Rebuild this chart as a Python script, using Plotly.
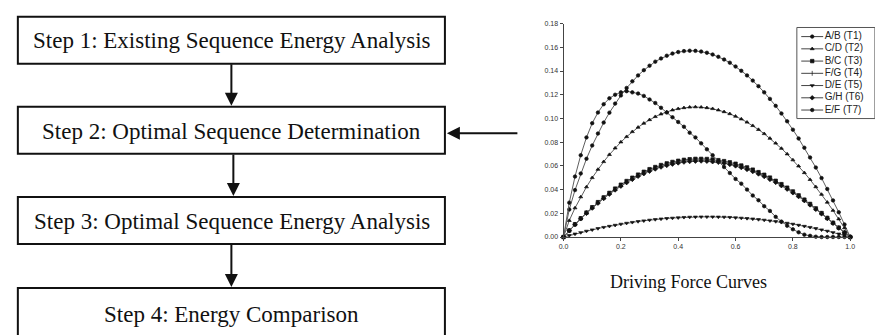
import plotly.graph_objects as go

# ---------------- data ----------------
X = [0.00, 0.02, 0.04, 0.06, 0.08, 0.10, 0.12, 0.14, 0.16, 0.18, 0.20,
     0.22, 0.24, 0.26, 0.28, 0.30, 0.32, 0.34, 0.36, 0.38, 0.40,
     0.42, 0.44, 0.46, 0.48, 0.50, 0.52, 0.54, 0.56, 0.58, 0.60,
     0.62, 0.64, 0.66, 0.68, 0.70, 0.72, 0.74, 0.76, 0.78, 0.80,
     0.82, 0.84, 0.86, 0.88, 0.90, 0.92, 0.94, 0.96, 0.98, 1.00]

T1 = [0, 0.0232, 0.0396, 0.0536, 0.0660, 0.0772, 0.0873, 0.0965, 0.1049, 0.1125, 0.1194,
      0.1257, 0.1313, 0.1363, 0.1407, 0.1445, 0.1479, 0.1506, 0.1529, 0.1547, 0.1560,
      0.1568, 0.1571, 0.1570, 0.1564, 0.1554, 0.1539, 0.1520, 0.1497, 0.1470, 0.1438,
      0.1402, 0.1363, 0.1319, 0.1272, 0.1220, 0.1165, 0.1106, 0.1042, 0.0976, 0.0905,
      0.0831, 0.0753, 0.0671, 0.0586, 0.0497, 0.0405, 0.0309, 0.0209, 0.0106, 0]
T2 = [0, 0.0139, 0.0245, 0.0338, 0.0422, 0.0500, 0.0570, 0.0635, 0.0695, 0.0750, 0.0801,
      0.0846, 0.0888, 0.0925, 0.0959, 0.0989, 0.1015, 0.1037, 0.1055, 0.1071, 0.1082,
      0.1090, 0.1095, 0.1097, 0.1095, 0.1090, 0.1082, 0.1071, 0.1056, 0.1039, 0.1018,
      0.0995, 0.0968, 0.0939, 0.0906, 0.0871, 0.0832, 0.0791, 0.0747, 0.0700, 0.0650,
      0.0598, 0.0542, 0.0484, 0.0423, 0.0359, 0.0293, 0.0224, 0.0152, 0.0077, 0]
T3 = [0, 0.0055, 0.0108, 0.0158, 0.0206, 0.0251, 0.0294, 0.0334, 0.0372, 0.0408, 0.0441,
      0.0472, 0.0500, 0.0526, 0.0550, 0.0572, 0.0590, 0.0607, 0.0621, 0.0633, 0.0643,
      0.0651, 0.0656, 0.0659, 0.0659, 0.0658, 0.0654, 0.0648, 0.0640, 0.0630, 0.0618,
      0.0603, 0.0587, 0.0568, 0.0547, 0.0525, 0.0501, 0.0474, 0.0446, 0.0416, 0.0384,
      0.0351, 0.0315, 0.0279, 0.0241, 0.0202, 0.0161, 0.0120, 0.0079, 0.0037, 0]
T4 = [0, 0.0054, 0.0106, 0.0156, 0.0203, 0.0248, 0.0290, 0.0330, 0.0367, 0.0402, 0.0435,
      0.0465, 0.0493, 0.0519, 0.0542, 0.0563, 0.0582, 0.0598, 0.0613, 0.0624, 0.0634,
      0.0641, 0.0646, 0.0649, 0.0650, 0.0648, 0.0645, 0.0639, 0.0631, 0.0621, 0.0609,
      0.0595, 0.0578, 0.0560, 0.0540, 0.0518, 0.0493, 0.0467, 0.0440, 0.0410, 0.0379,
      0.0346, 0.0311, 0.0275, 0.0238, 0.0199, 0.0159, 0.0118, 0.0077, 0.0037, 0]
T5 = [0, 0.0013, 0.0026, 0.0038, 0.0050, 0.0061, 0.0072, 0.0082, 0.0091, 0.0100, 0.0109,
      0.0117, 0.0124, 0.0131, 0.0137, 0.0143, 0.0148, 0.0153, 0.0157, 0.0160, 0.0163,
      0.0166, 0.0168, 0.0169, 0.0170, 0.0170, 0.0170, 0.0169, 0.0168, 0.0166, 0.0163,
      0.0160, 0.0157, 0.0153, 0.0148, 0.0143, 0.0137, 0.0131, 0.0124, 0.0117, 0.0109,
      0.0100, 0.0091, 0.0082, 0.0072, 0.0061, 0.0050, 0.0038, 0.0026, 0.0013, 0]
T6 = [0, 0.0054, 0.0105, 0.0154, 0.0200, 0.0244, 0.0286, 0.0325, 0.0362, 0.0397, 0.0429,
      0.0459, 0.0486, 0.0512, 0.0534, 0.0555, 0.0574, 0.0590, 0.0604, 0.0615, 0.0625,
      0.0632, 0.0637, 0.0640, 0.0641, 0.0639, 0.0635, 0.0630, 0.0622, 0.0612, 0.0600,
      0.0586, 0.0570, 0.0552, 0.0532, 0.0510, 0.0486, 0.0461, 0.0433, 0.0404, 0.0373,
      0.0341, 0.0307, 0.0271, 0.0234, 0.0196, 0.0157, 0.0117, 0.0076, 0.0036, 0]
T7 = [0, 0.029, 0.051, 0.069, 0.084, 0.096, 0.105, 0.112, 0.117, 0.120, 0.122,
      0.123, 0.122, 0.121, 0.119, 0.116, 0.113, 0.109, 0.105, 0.101, 0.097,
      0.093, 0.088, 0.084, 0.079, 0.074, 0.069, 0.064, 0.059, 0.054, 0.049,
      0.045, 0.040, 0.035, 0.031, 0.026, 0.022, 0.017, 0.013, 0.0095, 0.0065,
      0.004, 0.002, 0.001, 0.0003, 0, 0, 0, 0, 0, 0]

SERIES_NAMES = ["A/B (T1)", "C/D (T2)", "B/C (T3)", "F/G (T4)", "D/E (T5)", "G/H (T6)", "E/F (T7)"]
SERIES_VALUES = [T1, T2, T3, T4, T5, T6, T7]
SERIES_SYMBOLS = ["circle", "triangle-up", "square", "line-ns-open", "triangle-down", "diamond", "circle"]

X_TICKS = [0.0, 0.2, 0.4, 0.6, 0.8, 1.0]
X_TICK_TEXT = ["0.0", "0.2", "0.4", "0.6", "0.8", "1.0"]
Y_TICKS = [0.00, 0.02, 0.04, 0.06, 0.08, 0.10, 0.12, 0.14, 0.16, 0.18]
Y_TICK_TEXT = ["0.00", "0.02", "0.04", "0.06", "0.08", "0.10", "0.12", "0.14", "0.16", "0.18"]

STEPS = ["Step 1: Existing Sequence Energy Analysis",
         "Step 2: Optimal Sequence Determination",
         "Step 3: Optimal Sequence Energy Analysis",
         "Step 4: Energy Comparison"]
CHART_CAPTION = "Driving Force Curves"

# ---------------- layout helpers ----------------
W, H = 875, 335
def px(x):
    return x / W
def py(y):
    return 1 - y / H

LINE_COLOR = "#5e5e5e"
MARK_COLOR = "#111111"
SERIF = "Liberation Serif, Times New Roman, serif"
SANS = "Liberation Sans, Arial, sans-serif"

fig = go.Figure()

for name, vals, sym in zip(SERIES_NAMES, SERIES_VALUES, SERIES_SYMBOLS):
    fig.add_trace(go.Scatter(
        x=X, y=vals, name=name, mode="lines+markers",
        line=dict(color=LINE_COLOR, width=1),
        marker=dict(symbol=sym, size=3.5, color=MARK_COLOR,
                    line=dict(color=MARK_COLOR, width=0.7)),
        cliponaxis=False, showlegend=False))

# manual legend (drawn on its own hidden axes)
LEG_ROWS = list(range(len(SERIES_NAMES)))
for i, (name, sym) in enumerate(zip(SERIES_NAMES, SERIES_SYMBOLS)):
    fig.add_trace(go.Scatter(
        x=[0.06, 0.36], y=[i, i], mode="lines", xaxis="x2", yaxis="y2",
        line=dict(color="#444444", width=1), showlegend=False, hoverinfo="skip"))
    fig.add_trace(go.Scatter(
        x=[0.21], y=[i], mode="markers", xaxis="x2", yaxis="y2",
        marker=dict(symbol=sym, size=3.5, color=MARK_COLOR, line=dict(color=MARK_COLOR, width=0.7)),
        showlegend=False, hoverinfo="skip", cliponaxis=False))
fig.add_trace(go.Scatter(
    x=[0.38] * len(SERIES_NAMES), y=LEG_ROWS, text=SERIES_NAMES, mode="text",
    textposition="middle right", xaxis="x2", yaxis="y2",
    textfont=dict(family=SANS, size=10, color="#222222"),
    showlegend=False, hoverinfo="skip", cliponaxis=False))

shapes = []
annotations = []

# legend frame
shapes.append(dict(type="rect", xref="paper", yref="paper",
                   x0=px(801), x1=px(880), y0=py(117), y1=py(24),
                   line=dict(color="#555555", width=1), fillcolor="rgba(0,0,0,0)"))

# flowchart boxes
BOX_Y = [(13, 61), (105, 153), (197, 245), (290, 345)]
TEXT_Y = [37, 130, 222, 317]
for (y0, y1), ty, label in zip(BOX_Y, TEXT_Y, STEPS):
    shapes.append(dict(type="rect", xref="paper", yref="paper",
                       x0=px(13), x1=px(445), y0=py(y1), y1=py(y0),
                       line=dict(color="#111111", width=2), fillcolor="white"))
    annotations.append(dict(text=label, xref="paper", yref="paper",
                            x=px(229.5), y=py(ty), xanchor="center", yanchor="middle",
                            showarrow=False, font=dict(family=SERIF, size=23, color="#111111")))

# vertical arrows between boxes
for xa, (ya, yb) in zip([229, 231, 229], [(61, 105), (153, 197), (245, 290)]):
    annotations.append(dict(text="", xref="paper", yref="paper",
                            x=px(xa), y=py(yb - 1), ax=0, ay=-(yb - 1 - ya),
                            showarrow=True, arrowhead=2, arrowsize=1.3, arrowwidth=2,
                            arrowcolor="#111111", standoff=0))
# horizontal arrow from chart to step 2
annotations.append(dict(text="", xref="paper", yref="paper",
                        x=px(447), y=py(132), ax=519 - 447, ay=0,
                        showarrow=True, arrowhead=2, arrowsize=1.3, arrowwidth=2,
                        arrowcolor="#111111", standoff=0))

# chart caption
annotations.append(dict(text=CHART_CAPTION, xref="paper", yref="paper",
                        x=px(691), y=py(284), xanchor="center", yanchor="middle",
                        showarrow=False, font=dict(family=SERIF, size=18, color="#111111")))

axis_common = dict(showgrid=False, zeroline=False, showline=True, linecolor="#444444",
                   linewidth=1, ticks="outside", ticklen=3, tickcolor="#444444",
                   tickfont=dict(family=SANS, size=7, color="#333333"))

fig.update_layout(
    width=W, height=H, margin=dict(l=0, r=0, t=0, b=0),
    paper_bgcolor="white", plot_bgcolor="white",
    xaxis=dict(domain=[px(565), px(855)], range=[0, 1.0], tickvals=X_TICKS,
               ticktext=X_TICK_TEXT, anchor="y", **axis_common),
    yaxis=dict(domain=[py(238), py(20)], range=[0, 0.18], tickvals=Y_TICKS,
               ticktext=Y_TICK_TEXT, anchor="x", **axis_common),
    xaxis2=dict(domain=[px(801), 1.0], range=[0, 1.0], visible=False, anchor="y2"),
    yaxis2=dict(domain=[py(117), py(24)], range=[6.696, -0.744], visible=False, anchor="x2"),
    shapes=shapes, annotations=annotations, showlegend=False,
)

fig.write_html("out.html", config={"displayModeBar": False},
               post_script="document.body.style.margin='0';document.body.style.overflow='hidden';")
